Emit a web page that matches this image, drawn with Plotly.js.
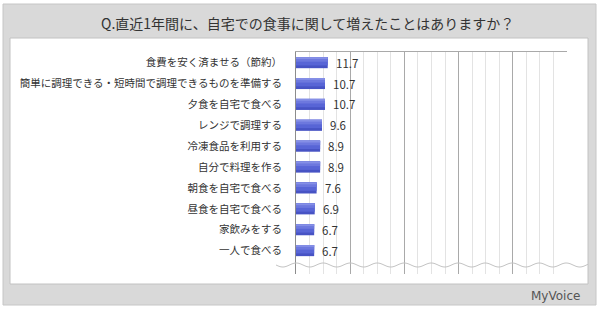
<!DOCTYPE html>
<html><head><meta charset="utf-8">
<script src="https://cdn.plot.ly/plotly-3.0.1.min.js"></script>
<style>html,body{margin:0;padding:0;background:#fff}#c{width:600px;height:312px}</style>
</head><body><div id="c"></div>
<script>
const categories = [
  "食費を安く済ませる（節約）",
  "簡単に調理できる・短時間で調理できるものを準備する",
  "夕食を自宅で食べる",
  "レンジで調理する",
  "冷凍食品を利用する",
  "自分で料理を作る",
  "朝食を自宅で食べる",
  "昼食を自宅で食べる",
  "家飲みをする",
  "一人で食べる"
];
const values = [11.7, 10.7, 10.7, 9.6, 8.9, 8.9, 7.6, 6.9, 6.7, 6.7];
const titleText = "Q.直近1年間に、自宅での食事に関して増えたことはありますか？";

const W = 600, H = 312;
const L = 296, R = 567, T = 52, B = 274;
const px = x => (x - L) / (R - L);
const py = y => (B - y) / (B - T);

// wavy break line (decoration)
let wave = "";
for (let x = 276; x <= 588; x += 1) {
  const y = 265 + 2 * Math.sin((x - 276) / 27 * 2 * Math.PI);
  wave += (x === 276 ? "M" : "L") + px(x).toFixed(4) + "," + py(y).toFixed(4);
}

// bar drawn as stacked shading layers (same data) to mimic gradient
const shade = (w, color) => ({
  type: "bar", orientation: "h",
  x: values, y: categories,
  width: w, offset: -0.265,
  marker: {color: color, line: {width: 0}},
  hoverinfo: "skip"
});
const traces = [
  shade(0.53, "#4753c4"),
  shade(0.40, "#5865d6"),
  shade(0.22, "#6d78de"),
  shade(0.09, "#858fe6")
];

const annotations = values.map((v, i) => ({
  x: v, y: categories[i], xref: "x", yref: "y",
  text: v.toFixed(1), showarrow: false, xanchor: "left", xshift: 6,
  font: {family: "Noto Sans CJK JP", size: 11.5, color: "#333"}
}));
annotations.push({
  xref: "paper", yref: "paper", x: px(W / 2 + 7), y: py(23),
  text: titleText, showarrow: false, xanchor: "center", yanchor: "middle",
  font: {family: "Noto Sans CJK JP", size: 14, color: "#333"}
});
annotations.push({
  xref: "paper", yref: "paper", x: px(582), y: py(296),
  text: "MyVoice", showarrow: false, xanchor: "right", yanchor: "middle",
  font: {family: "DejaVu Sans", size: 12, color: "#555"}
});

const layout = {
  width: W, height: H,
  margin: {l: L, r: W - R, t: T, b: H - B, pad: 0},
  paper_bgcolor: "#ffffff", plot_bgcolor: "rgba(0,0,0,0)",
  showlegend: false, barmode: "overlay",
  xaxis: {
    range: [0, 100], side: "top", fixedrange: true,
    showticklabels: false, ticks: "",
    dtick: 20, showgrid: true, gridcolor: "#a9a9a9", gridwidth: 1,
    minor: {dtick: 5, showgrid: true, gridcolor: "#e3e3e3", gridwidth: 1},
    showline: true, linecolor: "#a9a9a9", linewidth: 1,
    zeroline: false
  },
  yaxis: {
    type: "category", range: [10.12, -0.51], fixedrange: true,
    showgrid: false, zeroline: false,
    showline: true, linecolor: "#8c8c8c", linewidth: 1,
    ticks: "", ticklabelstandoff: 11,
    tickfont: {family: "Noto Sans CJK JP", size: 10.5, color: "#333"}
  },
  shapes: [
    {type: "rect", xref: "paper", yref: "paper", layer: "below",
     x0: px(3), x1: px(596), y0: py(305), y1: py(4),
     fillcolor: "#d9d9d9", line: {color: "#c6c6c6", width: 1}},
    {type: "rect", xref: "paper", yref: "paper", layer: "below",
     x0: px(10), x1: px(588), y0: py(284), y1: py(38),
     fillcolor: "#ffffff", line: {color: "#c2c2c2", width: 1}},
    {type: "path", xref: "paper", yref: "paper", layer: "above",
     path: wave, line: {color: "#c4c4c4", width: 1}}
  ],
  annotations: annotations
};

Plotly.newPlot("c", traces, layout, {displayModeBar: false, staticPlot: true});
</script></body></html>
